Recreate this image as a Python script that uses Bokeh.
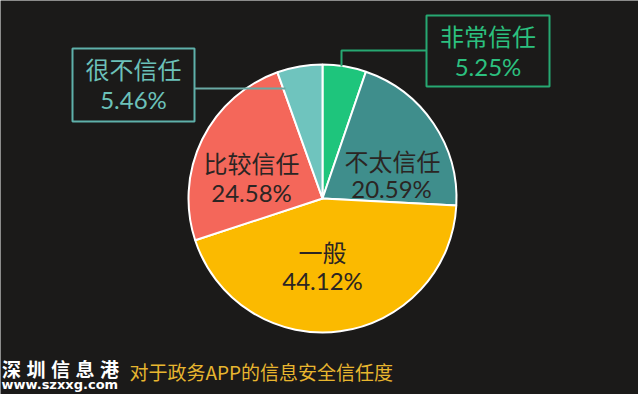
import math
from bokeh.plotting import figure
from bokeh.models import Range1d
from bokeh.core.properties import value
from bokeh.embed import file_html
from bokeh.resources import INLINE

# ---- data ----
categories = ["非常信任", "不太信任", "一般", "比较信任", "很不信任"]
percents = [5.25, 20.59, 44.12, 24.58, 5.46]
pct_labels = ["5.25%", "20.59%", "44.12%", "24.58%", "5.46%"]
colors = ["#1ec57c", "#3f8e8c", "#fbba00", "#f4675a", "#6fc4be"]
title_text = "对于政务APP的信息安全信任度"
brand_chars = ["深", "圳", "信", "息", "港"]
brand_url = "www.szxxg.com"

W, H = 638, 394
BG = "#1b1a19"
CJK = "Noto Sans CJK SC"
NUM = "Lato"

def Y(y):
    return H - y

p = figure(width=W, height=H, x_range=Range1d(0, W), y_range=Range1d(0, H),
           output_backend="svg", toolbar_location=None, min_border=0,
           background_fill_color=BG, border_fill_color=BG, outline_line_color=None)
p.axis.visible = False
p.grid.visible = False

# ---- pie ----
cx, cy, r = 322, 198, 134
total = sum(percents)
starts, ends = [], []
cum = 0.0
for v in percents:
    starts.append(math.pi / 2 - 2 * math.pi * cum / total)
    cum += v
    ends.append(math.pi / 2 - 2 * math.pi * cum / total)

p.wedge(x=[cx] * len(percents), y=[Y(cy)] * len(percents), radius=r,
        start_angle=starts, end_angle=ends, direction="clock",
        fill_color=colors, line_color="white", line_width=2)

# ---- inside labels (slices 1..3) ----
inside_idx = [1, 2, 3]
name_pos = {1: (392, 160), 2: (322, 251), 3: (251, 162)}
pct_pos = {1: (391, 188), 2: (322, 280), 3: (251, 192)}
for i in inside_idx:
    nx, ny = name_pos[i]
    px_, py_ = pct_pos[i]
    p.text(x=[nx], y=[Y(ny)], text=[categories[i]], text_align="center",
           text_baseline="middle", text_font=value(CJK), text_font_size="24px",
           text_color="#2b2523")
    p.text(x=[px_], y=[Y(py_)], text=[pct_labels[i]], text_align="center",
           text_baseline="middle", text_font=value(NUM), text_font_size="24px",
           text_color="#2b2523")

# ---- boxed callouts (slices 0 and 4) ----
box_line = {0: "#27a872", 4: "#5fb0aa"}
box_text = {0: "#2cc07f", 4: "#6cc1b9"}
box_rect = {0: (426, 549, 15, 86), 4: (72, 194, 48, 121)}  # left, right, top, bottom
for i in [0, 4]:
    l, rr, t, b = box_rect[i]
    p.quad(left=[l], right=[rr], top=[Y(t)], bottom=[Y(b)], fill_color=None,
           line_color=box_line[i], line_width=2)
    mx = (l + rr) / 2
    p.text(x=[mx], y=[Y(t + 20)], text=[categories[i]], text_align="center",
           text_baseline="middle", text_font=value(CJK), text_font_size="24px",
           text_color=box_text[i])
    p.text(x=[mx], y=[Y(t + 51)], text=[pct_labels[i]], text_align="center",
           text_baseline="middle", text_font=value(NUM), text_font_size="24px",
           text_color=box_text[i])

# leader lines
p.line(x=[341, 341, 426], y=[Y(66), Y(50), Y(50)], line_color=box_line[0], line_width=2)
p.line(x=[194, 285], y=[Y(88), Y(88)], line_color="#6aa9a4", line_width=2)

# ---- footer ----
for k, ch in enumerate(brand_chars):
    p.text(x=[11 + 24.5 * k], y=[Y(368)], text=[ch], text_align="center",
           text_baseline="middle", text_font=value(CJK), text_font_size="19px",
           text_color="white", text_font_style="bold")
p.text(x=[1], y=[Y(384)], text=[brand_url], text_align="left",
       text_baseline="middle", text_font=value("DejaVu Sans"), text_font_size="13px",
       text_color="white", text_font_style="bold")
p.text(x=[129], y=[Y(371)], text=[title_text], text_align="left",
       text_baseline="middle", text_font=value(CJK), text_font_size="19px",
       text_color="#e8b62f")

open("out.html", "w").write(file_html(p, INLINE))
